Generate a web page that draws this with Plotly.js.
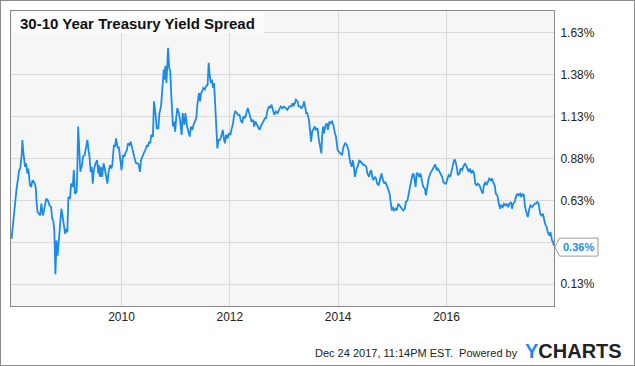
<!DOCTYPE html>
<html><head><meta charset="utf-8">
<script src="https://cdn.plot.ly/plotly-3.0.1.min.js"></script>
<style>
html,body{margin:0;padding:0;background:#fff;}
#wrap{position:relative;width:635px;height:366px;overflow:hidden;}
#chart{width:635px;height:366px;}
#frame{position:absolute;left:0;top:0;width:635px;height:366px;box-sizing:border-box;border:1px solid #8c8c8c;pointer-events:none;}
</style></head><body>
<div id="wrap"><div id="chart"></div><div id="frame"></div></div>
<script>
const chartTitle = '30-10 Year Treasury Yield Spread';
const footerText = 'Dec 24 2017, 11:14PM EST.  Powered by';
const xTickVals = [2010, 2012, 2014, 2016];
const xTickText = ['2010', '2012', '2014', '2016'];
const yTickVals = [0.13, 0.38, 0.63, 0.88, 1.13, 1.38, 1.63];

// decimal years
const years = [
2007.97,2008.02,2008.06,2008.11,2008.13,2008.16,2008.17,2008.19,2008.22,2008.24,
2008.26,2008.28,2008.31,2008.33,2008.36,2008.40,2008.42,2008.43,2008.45,2008.48,
2008.50,2008.52,2008.55,2008.57,2008.61,2008.64,2008.67,2008.70,2008.72,2008.74,
2008.75,2008.76,2008.78,2008.80,2008.82,2008.85,2008.86,2008.89,2008.91,2008.94,
2008.96,2008.97,2009.00,2009.02,2009.05,2009.07,2009.10,2009.12,2009.14,2009.17,
2009.18,2009.20,2009.23,2009.24,2009.27,2009.29,2009.32,2009.34,2009.37,2009.39,
2009.41,2009.43,2009.45,2009.47,2009.49,2009.52,2009.55,2009.57,2009.58,2009.60,
2009.62,2009.64,2009.67,2009.69,2009.71,2009.74,2009.76,2009.79,2009.81,2009.83,
2009.86,2009.88,2009.90,2009.93,2009.95,2009.98,2010.00,2010.03,2010.05,2010.07,
2010.10,2010.12,2010.15,2010.17,2010.20,2010.22,2010.25,2010.27,2010.30,2010.32,
2010.34,2010.36,2010.38,2010.41,2010.44,2010.47,2010.49,2010.51,2010.53,2010.55,
2010.58,2010.60,2010.63,2010.65,2010.68,2010.70,2010.73,2010.75,2010.78,2010.79,
2010.81,2010.83,2010.86,2010.88,2010.90,2010.92,2010.95,2010.97,2010.99,2011.01,
2011.03,2011.06,2011.08,2011.11,2011.13,2011.16,2011.18,2011.21,2011.23,2011.26,
2011.28,2011.31,2011.33,2011.36,2011.38,2011.40,2011.43,2011.45,2011.47,2011.49,
2011.51,2011.54,2011.56,2011.59,2011.61,2011.63,2011.65,2011.67,2011.69,2011.71,
2011.73,2011.75,2011.77,2011.79,2011.82,2011.84,2011.87,2011.89,2011.91,2011.93,
2011.96,2011.98,2012.01,2012.03,2012.06,2012.08,2012.10,2012.13,2012.15,2012.18,
2012.20,2012.23,2012.25,2012.28,2012.30,2012.33,2012.35,2012.38,2012.40,2012.43,
2012.45,2012.47,2012.50,2012.52,2012.55,2012.57,2012.60,2012.62,2012.65,2012.67,
2012.69,2012.72,2012.74,2012.77,2012.79,2012.82,2012.85,2012.88,2012.91,2012.94,
2012.97,2013.00,2013.03,2013.06,2013.10,2013.13,2013.16,2013.17,2013.20,2013.22,
2013.25,2013.27,2013.30,2013.32,2013.35,2013.37,2013.39,2013.41,2013.43,2013.46,
2013.48,2013.50,2013.52,2013.54,2013.57,2013.59,2013.62,2013.64,2013.67,2013.69,
2013.70,2013.72,2013.74,2013.76,2013.79,2013.81,2013.84,2013.86,2013.89,2013.91,
2013.94,2013.96,2013.99,2014.01,2014.04,2014.07,2014.10,2014.13,2014.16,2014.19,
2014.22,2014.25,2014.27,2014.29,2014.31,2014.34,2014.36,2014.39,2014.42,2014.44,
2014.47,2014.49,2014.52,2014.54,2014.57,2014.59,2014.61,2014.63,2014.65,2014.68,
2014.70,2014.72,2014.75,2014.77,2014.80,2014.82,2014.85,2014.87,2014.90,2014.92,
2014.95,2014.97,2014.99,2015.01,2015.03,2015.06,2015.08,2015.11,2015.13,2015.16,
2015.18,2015.20,2015.23,2015.25,2015.28,2015.31,2015.35,2015.38,2015.40,2015.43,
2015.45,2015.47,2015.50,2015.52,2015.55,2015.57,2015.60,2015.62,2015.65,2015.67,
2015.70,2015.72,2015.75,2015.77,2015.79,2015.82,2015.84,2015.87,2015.89,2015.92,
2015.94,2015.97,2015.99,2016.02,2016.04,2016.07,2016.09,2016.12,2016.14,2016.16,
2016.19,2016.21,2016.24,2016.26,2016.29,2016.31,2016.34,2016.36,2016.38,2016.41,
2016.43,2016.46,2016.48,2016.51,2016.53,2016.56,2016.58,2016.61,2016.64,2016.67,
2016.69,2016.72,2016.74,2016.77,2016.79,2016.82,2016.84,2016.86,2016.89,2016.91,
2016.94,2016.96,2016.99,2017.01,2017.04,2017.06,2017.09,2017.11,2017.14,2017.16,
2017.19,2017.21,2017.23,2017.26,2017.28,2017.31,2017.33,2017.36,2017.38,2017.41,
2017.43,2017.45,2017.48,2017.50,2017.53,2017.55,2017.58,2017.60,2017.63,2017.65,
2017.68,2017.70,2017.73,2017.75,2017.78,2017.80,2017.82,2017.85,2017.87,2017.90,
2017.92,2017.95,2017.97,2017.98
];

// 30-year minus 10-year Treasury yield, percent
const spread = [
0.40,0.57,0.69,0.81,0.82,0.91,0.99,0.91,0.83,0.85,
0.79,0.82,0.72,0.71,0.75,0.73,0.70,0.63,0.56,0.55,
0.54,0.61,0.54,0.57,0.64,0.63,0.60,0.59,0.52,0.51,
0.46,0.45,0.19,0.39,0.30,0.42,0.41,0.58,0.54,0.45,
0.43,0.46,0.44,0.65,0.64,0.73,0.71,0.81,0.67,0.68,
0.75,1.07,0.91,0.80,0.84,0.89,0.90,0.93,0.99,0.93,
0.89,0.80,0.83,0.73,0.81,0.85,0.87,0.79,0.84,0.77,
0.83,0.77,0.85,0.82,0.79,0.73,0.80,0.84,0.82,0.84,
0.96,0.95,1.00,0.94,0.95,0.88,0.81,0.90,0.89,0.91,
0.93,0.97,0.96,0.98,0.93,0.90,0.87,0.85,0.85,0.84,
0.80,0.87,0.89,0.91,0.93,0.96,0.95,0.98,0.97,1.02,
1.01,1.22,1.14,1.06,1.06,1.15,1.19,1.30,1.41,1.35,
1.43,1.33,1.54,1.42,1.40,1.25,1.07,1.10,1.04,1.12,
1.18,1.15,1.11,1.02,1.15,1.08,1.15,1.07,1.05,1.01,
1.07,1.05,1.08,1.11,1.12,1.20,1.27,1.22,1.27,1.28,
1.30,1.29,1.31,1.32,1.45,1.37,1.33,1.35,1.30,1.33,
1.21,1.07,0.94,0.99,0.99,1.01,1.05,1.00,0.97,1.02,
1.00,1.03,1.02,1.05,1.09,1.14,1.16,1.15,1.14,1.14,
1.11,1.09,1.13,1.12,1.14,1.18,1.16,1.12,1.10,1.11,
1.07,1.10,1.08,1.07,1.05,1.07,1.09,1.11,1.12,1.12,
1.16,1.19,1.18,1.20,1.17,1.14,1.16,1.15,1.17,1.19,
1.18,1.19,1.18,1.17,1.19,1.19,1.21,1.19,1.21,1.23,
1.22,1.19,1.19,1.18,1.19,1.22,1.19,1.15,1.15,1.11,
1.05,0.98,1.04,1.05,1.07,1.05,1.06,1.00,0.93,0.91,
0.99,1.07,1.03,1.07,1.09,1.05,1.10,1.09,1.10,1.08,
1.03,1.01,0.93,0.92,0.91,0.90,0.95,0.97,0.96,0.93,
0.86,0.83,0.87,0.83,0.77,0.82,0.83,0.87,0.86,0.85,
0.84,0.84,0.83,0.79,0.77,0.80,0.81,0.77,0.75,0.77,
0.76,0.73,0.72,0.75,0.79,0.76,0.73,0.74,0.72,0.70,
0.67,0.62,0.57,0.59,0.57,0.58,0.57,0.61,0.60,0.59,
0.575,0.57,0.58,0.62,0.63,0.69,0.75,0.79,0.78,0.71,
0.79,0.79,0.77,0.79,0.73,0.71,0.70,0.66,0.72,0.76,
0.79,0.80,0.82,0.83,0.845,0.81,0.82,0.80,0.79,0.77,
0.74,0.73,0.73,0.77,0.78,0.77,0.80,0.84,0.87,0.87,
0.83,0.78,0.79,0.82,0.81,0.83,0.85,0.84,0.82,0.80,
0.82,0.79,0.81,0.79,0.73,0.72,0.73,0.72,0.69,0.67,
0.72,0.74,0.72,0.74,0.76,0.75,0.76,0.74,0.72,0.67,
0.66,0.62,0.58,0.60,0.59,0.61,0.60,0.61,0.59,0.61,
0.62,0.58,0.61,0.62,0.65,0.67,0.66,0.67,0.65,0.67,
0.66,0.59,0.56,0.53,0.58,0.60,0.59,0.60,0.61,0.61,
0.62,0.61,0.55,0.54,0.55,0.52,0.49,0.47,0.44,0.42,
0.44,0.39,0.38,0.36
];

const FONT = '"Liberation Sans", Arial, Helvetica, sans-serif';
const LINE = '#1a8ce8';
const xRange = [2007.96, 2017.985];
const yRange = [0.0, 1.759];
const lastV = spread[spread.length - 1];

const trace = {
  x: years, y: spread, type: 'scatter', mode: 'lines',
  line: {color: LINE, width: 1.8}, hoverinfo: 'skip'
};

// the last-value flag covers the tick label next to it (as in the reference)
const yTickText = yTickVals.map(v => Math.abs(v - lastV) < 0.1 ? '' : v.toFixed(2) + '%');

const layout = {
  width: 635, height: 366,
  margin: {l: 11, r: 81, t: 11, b: 60, pad: 0},
  paper_bgcolor: '#ffffff', plot_bgcolor: '#f6f6f6',
  showlegend: false,
  title: {
    text: '<b>' + chartTitle + '</b>',
    font: {family: FONT, size: 15, color: '#111'},
    xref: 'container', yref: 'container',
    x: 20 / 635, xanchor: 'left', y: 1 - 24 / 366, yanchor: 'middle'
  },
  xaxis: {
    range: xRange, tickvals: xTickVals, ticktext: xTickText,
    showgrid: true, gridcolor: '#d9d9d9', gridwidth: 1, zeroline: false,
    showline: true, linecolor: '#888', linewidth: 1, mirror: true, ticks: '',
    tickfont: {family: FONT, size: 12, color: '#222'}, fixedrange: true
  },
  yaxis: {
    range: yRange, side: 'right', tickvals: yTickVals, ticktext: yTickText,
    showgrid: true, gridcolor: '#d9d9d9', gridwidth: 1, zeroline: false,
    showline: true, linecolor: '#888', linewidth: 1, mirror: true, ticks: '',
    ticklabelstandoff: 3,
    tickfont: {family: FONT, size: 12, color: '#222'}, fixedrange: true
  },
  shapes: [
    {type: 'rect', xref: 'paper', yref: 'paper', x0: 0.002, x1: 0.466, y0: 0.925, y1: 0.998,
     fillcolor: '#fbfbfb', line: {width: 0}, layer: 'above'},
    {type: 'path', xref: 'paper', xsizemode: 'pixel', xanchor: 1,
     yref: 'y', ysizemode: 'pixel', yanchor: lastV,
     path: 'M 1 -1.5 L 5.5 7.5 L 44 7.5 L 44 -10.5 L 5.5 -10.5 Z',
     fillcolor: '#ffffff', line: {color: '#9a9a9a', width: 1}, layer: 'above'}
  ],
  annotations: [
    {xref: 'paper', yref: 'paper', x: 0.9374, y: -0.158, xanchor: 'right', yanchor: 'middle',
     text: footerText.replace(/  /g, '&nbsp; '), showarrow: false,
     font: {family: FONT, size: 11, color: '#222'}},
    {xref: 'paper', yref: 'paper', x: 0.942, y: -0.152, xanchor: 'left', yanchor: 'middle',
     text: '<b><span style="color:' + LINE + '">Y</span>CHARTS</b>', showarrow: false,
     font: {family: FONT, size: 20, color: '#222'}},
    {xref: 'paper', yref: 'y', x: 1, y: lastV, xanchor: 'center', yanchor: 'middle',
     xshift: 24.8, yshift: -1.5, showarrow: false,
     text: '<b>' + lastV.toFixed(2) + '%</b>',
     font: {family: FONT, size: 11, color: LINE}}
  ]
};

Plotly.newPlot('chart', [trace], layout, {displayModeBar: false, staticPlot: true});
</script>
</body></html>
